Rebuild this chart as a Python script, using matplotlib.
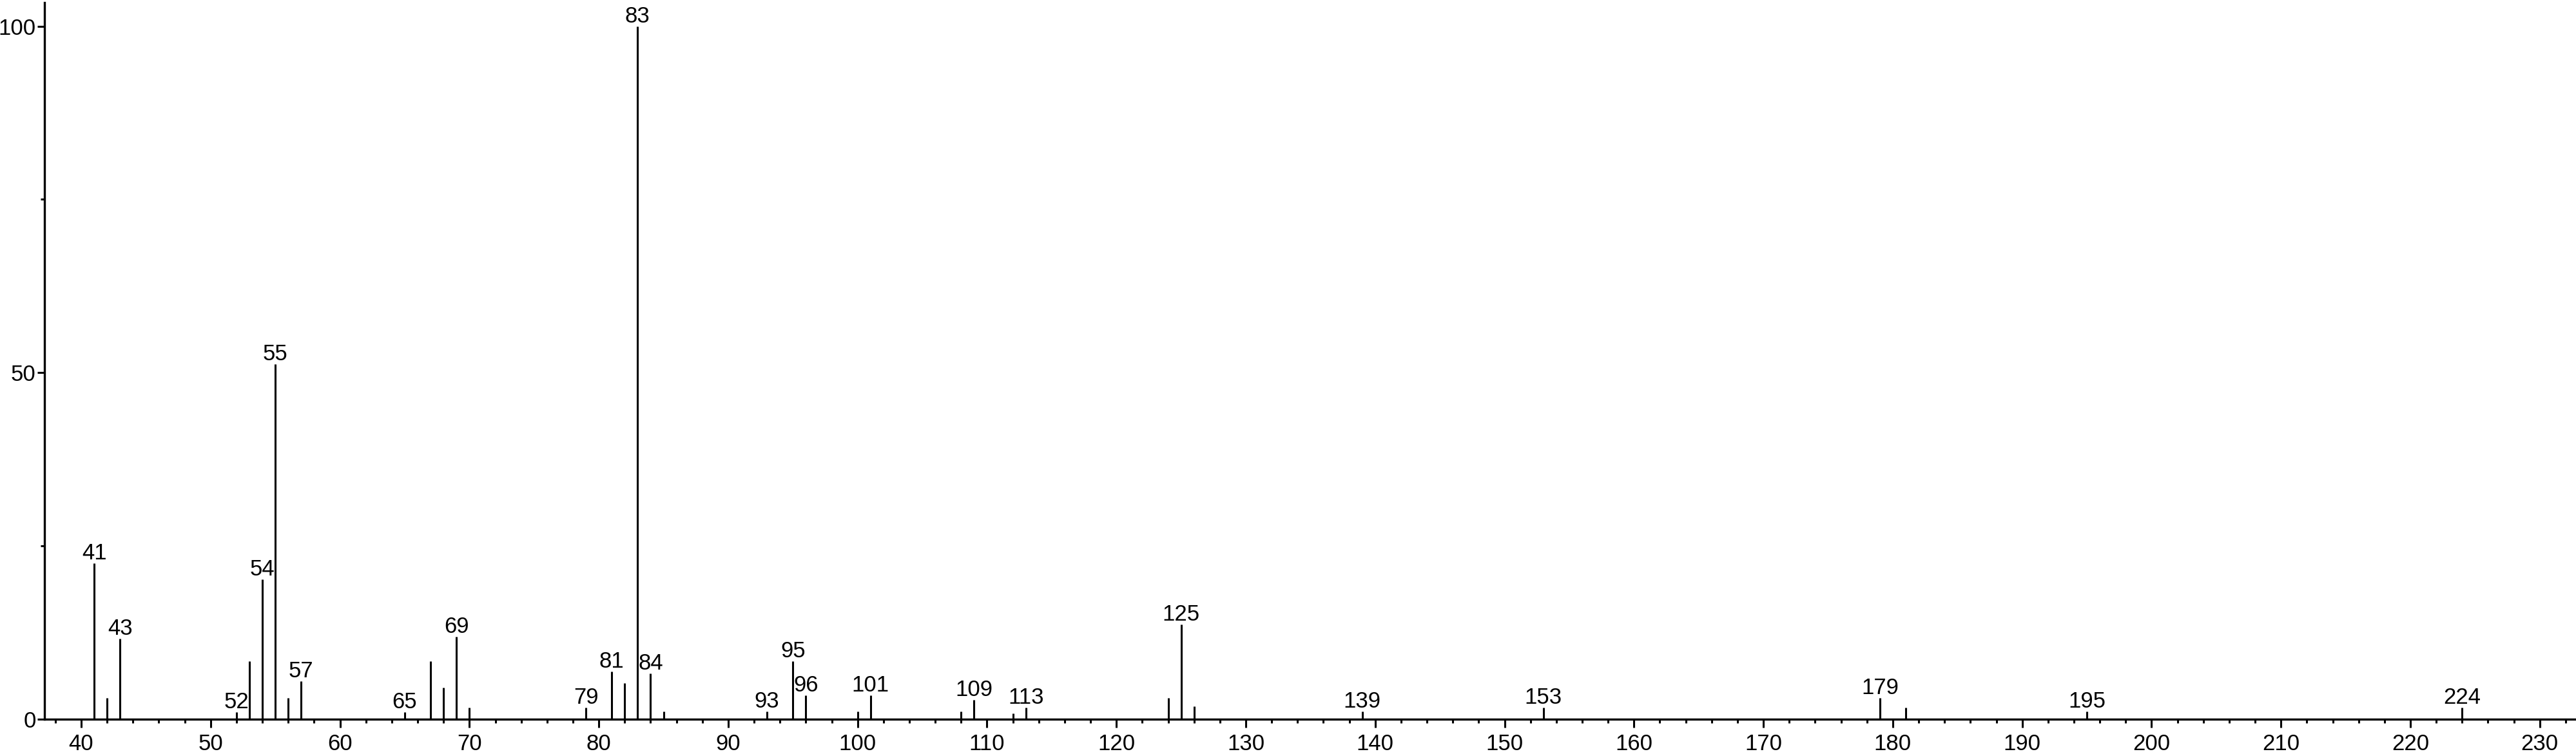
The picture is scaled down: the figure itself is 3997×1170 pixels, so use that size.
import numpy as np
from matplotlib import pyplot as plt
from matplotlib.ticker import MultipleLocator

plt.rcParams['font.family'] = ['Liberation Sans', 'DejaVu Sans']

# m/z values and relative intensities
mz = [41, 42, 43, 52, 53, 54, 55, 56, 57, 65, 67, 68, 69, 70,
      79, 81, 82, 83, 84, 85, 93, 95, 96, 100, 101, 108, 109, 112, 113,
      124, 125, 126, 139, 153, 179, 181, 195, 224]
intensity = [22.5, 3.1, 11.6, 1.0, 8.4, 20.2, 51.2, 3.1, 5.5, 1.0, 8.4, 4.6, 11.9, 1.7,
             1.65, 6.9, 5.2, 100.0, 6.6, 1.1, 1.1, 8.4, 3.4, 1.1, 3.4, 1.1, 2.8, 0.8, 1.65,
             3.1, 13.7, 1.9, 1.1, 1.65, 3.1, 1.65, 1.1, 1.65]

# peaks that carry a label
labelled = [41, 43, 52, 54, 55, 57, 65, 69, 79, 81, 83, 84, 93, 95, 96,
            101, 109, 113, 125, 139, 153, 179, 195, 224]

fig = plt.figure(figsize=(39.98, 11.70), dpi=100)
ax = fig.add_axes([69 / 3998, 54 / 1170, 3929 / 3998, 1112 / 1170])

ax.vlines(mz, 0, intensity, colors='black', linewidth=2.2)

for m, i in zip(mz, intensity):
    if m in labelled:
        ax.annotate(str(m), (m, i), xytext=(0, 4.3), textcoords='offset points',
                    ha='center', va='baseline', fontsize=25)

ax.set_xlim(37.16, 232.85)
ax.set_ylim(0, 103.4)

ax.xaxis.set_major_locator(MultipleLocator(10))
ax.xaxis.set_minor_locator(MultipleLocator(2))
ax.yaxis.set_major_locator(MultipleLocator(50))
ax.yaxis.set_minor_locator(MultipleLocator(25))

for side in ['top', 'right']:
    ax.spines[side].set_visible(False)
for side in ['left', 'bottom']:
    ax.spines[side].set_linewidth(2.4)

ax.tick_params(axis='x', which='major', length=9, width=2.2, pad=7, labelsize=25)
ax.tick_params(axis='x', which='minor', length=4.5, width=2.2)
ax.tick_params(axis='y', which='major', length=8, width=2.2, pad=1.5, labelsize=25)
ax.tick_params(axis='y', which='minor', length=4.5, width=2.2)

fig.savefig('out.png', dpi=100)
